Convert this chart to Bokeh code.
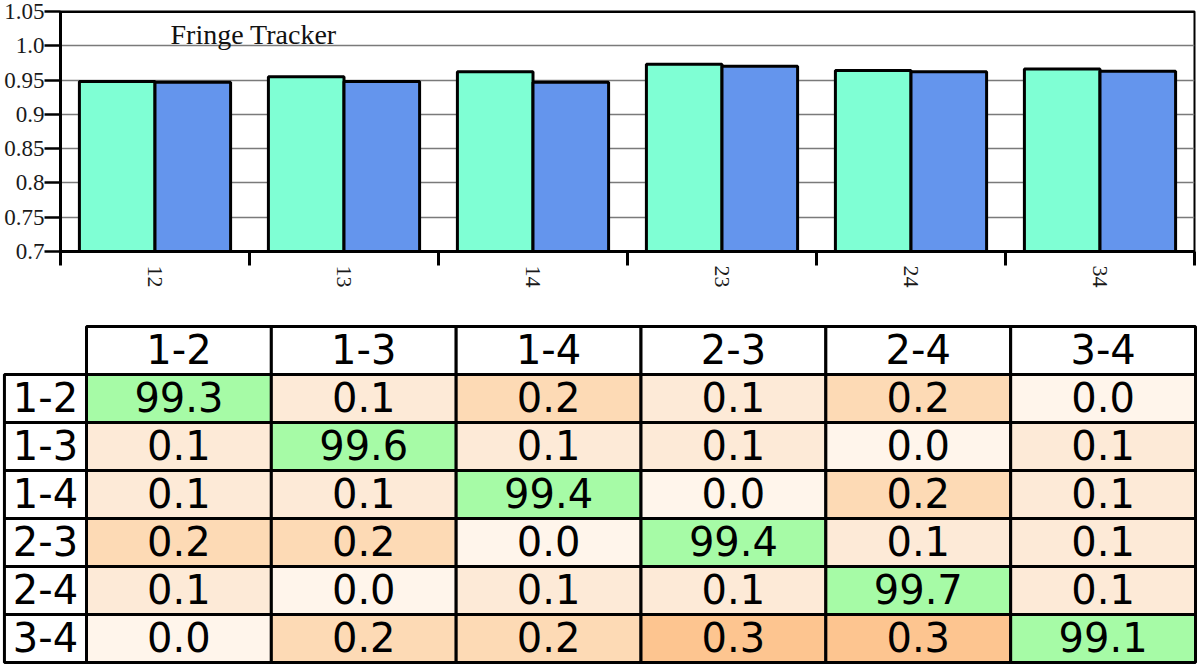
from bokeh.plotting import figure
from bokeh.models import Range1d, FixedTicker, Label, Span, ColumnDataSource
from bokeh.core.properties import value
from bokeh.embed import file_html
from bokeh.resources import INLINE

# ---------------- data ----------------
baselines = ["12", "13", "14", "23", "24", "34"]
series_green = [0.948, 0.955, 0.962, 0.973, 0.964, 0.966]
series_blue = [0.947, 0.948, 0.947, 0.970, 0.962, 0.963]
y_ticks = [0.7, 0.75, 0.8, 0.85, 0.9, 0.95, 1.0, 1.05]
y_tick_labels = ["0.7", "0.75", "0.8", "0.85", "0.9", "0.95", "1.0", "1.05"]

pairs = ["1-2", "1-3", "1-4", "2-3", "2-4", "3-4"]
row_12 = [99.3, 0.1, 0.2, 0.1, 0.2, 0.0]
row_13 = [0.1, 99.6, 0.1, 0.1, 0.0, 0.1]
row_14 = [0.1, 0.1, 99.4, 0.0, 0.2, 0.1]
row_23 = [0.2, 0.2, 0.0, 99.4, 0.1, 0.1]
row_24 = [0.1, 0.0, 0.1, 0.1, 99.7, 0.1]
row_34 = [0.0, 0.2, 0.2, 0.3, 0.3, 99.1]
matrix = [row_12, row_13, row_14, row_23, row_24, row_34]

# ---------------- styles ----------------
GREEN_BAR = "#7FFFD4"
BLUE_BAR = "#6495ED"
DIAG = "#A6FBA6"
ORANGES = {0.0: "#FFF5EB", 0.1: "#FDEAD7", 0.2: "#FDDAB5", 0.3: "#FDC590"}
SERIF = "Liberation Serif"

# ---------------- top bar chart ----------------
n = len(baselines)
p = figure(width=1200, height=300, x_range=Range1d(0, n), y_range=Range1d(y_ticks[0], y_ticks[-1]),
           output_backend="svg", toolbar_location=None,
           min_border_left=60, min_border_right=6, min_border_top=11, min_border_bottom=49)
p.outline_line_color = "black"
p.outline_line_width = 2
p.xgrid.visible = False
p.ygrid.ticker = FixedTicker(ticks=y_ticks)
p.ygrid.grid_line_color = "#7a7a7a"
p.ygrid.grid_line_width = 1.5

centers = [i + 0.5 for i in range(n)]
src = ColumnDataSource(dict(
    xg=[c - 0.2 for c in centers], xb=[c + 0.2 for c in centers],
    g=series_green, b=series_blue))
p.vbar(x="xg", top="g", bottom=0, width=0.4, source=src, fill_color=GREEN_BAR,
       line_color="black", line_width=3)
p.vbar(x="xb", top="b", bottom=0, width=0.4, source=src, fill_color=BLUE_BAR,
       line_color="black", line_width=3)

p.add_layout(Span(location=y_ticks[-1], dimension="width", line_color="black", line_width=3))

yax = p.yaxis[0]
yax.ticker = FixedTicker(ticks=y_ticks)
yax.major_label_overrides = {t: l for t, l in zip(y_ticks, y_tick_labels)}
yax.axis_line_width = 3
yax.axis_line_color = "black"
yax.major_tick_out = 16
yax.major_tick_in = 0
yax.major_tick_line_width = 2.5
yax.major_tick_line_color = "black"
yax.minor_tick_line_color = None
yax.major_label_standoff = 0
yax.major_label_text_font = SERIF
yax.major_label_text_font_size = "23px"
yax.major_label_text_color = "#1a1a1a"

xax = p.xaxis[0]
xax.ticker = FixedTicker(ticks=centers, minor_ticks=list(range(n + 1)))
xax.major_label_overrides = {c: b for c, b in zip(centers, baselines)}
xax.axis_line_width = 3
xax.axis_line_color = "black"
xax.major_tick_line_color = None
xax.major_tick_out = 0
xax.major_tick_in = 0
xax.minor_tick_out = 14
xax.minor_tick_in = 0
xax.minor_tick_line_width = 3
xax.minor_tick_line_color = "black"
xax.major_label_orientation = "vertical"
xax.major_label_standoff = 0
xax.major_label_text_font = SERIF
xax.major_label_text_font_size = "22px"
xax.major_label_text_color = "#1a1a1a"

p.add_layout(Label(x=0.582, y=1.017, text="Fringe Tracker", text_font=SERIF,
                   text_font_size="28px", text_baseline="alphabetic", text_color="#111111"))

# ---------------- bottom table ----------------
t = figure(width=1200, height=368, x_range=Range1d(-0.4653, 6.027), y_range=Range1d(6.125, -1.5417),
           output_backend="svg", toolbar_location=None, min_border=0,
           x_axis_location=None, y_axis_location=None)
t.grid.visible = False
t.outline_line_color = None

label_w = 0.444
cx, cy, cw, cc, ct = [], [], [], [], []
for j, name in enumerate(pairs):
    cx.append(j + 0.5); cy.append(-0.5); cw.append(1.0); cc.append("white"); ct.append(name)
for i, name in enumerate(pairs):
    cx.append(-label_w / 2); cy.append(i + 0.5); cw.append(label_w); cc.append("white"); ct.append(name)
    for j, v in enumerate(matrix[i]):
        cx.append(j + 0.5); cy.append(i + 0.5); cw.append(1.0)
        cc.append(DIAG if i == j else ORANGES[round(v, 1)])
        ct.append(f"{v:.1f}")

tsrc = ColumnDataSource(dict(x=cx, y=cy, w=cw, c=cc, t=ct))
t.rect(x="x", y="y", width="w", height=1.0, fill_color="c", line_color="black", line_width=3, source=tsrc)
t.text(x="x", y="y", text="t", source=tsrc, text_font=value("DejaVu Sans"), text_font_size="40px",
       text_align="center", text_baseline="middle", text_color="black", y_offset=-2)

open("out.html", "w").write(file_html([p, t], INLINE))
